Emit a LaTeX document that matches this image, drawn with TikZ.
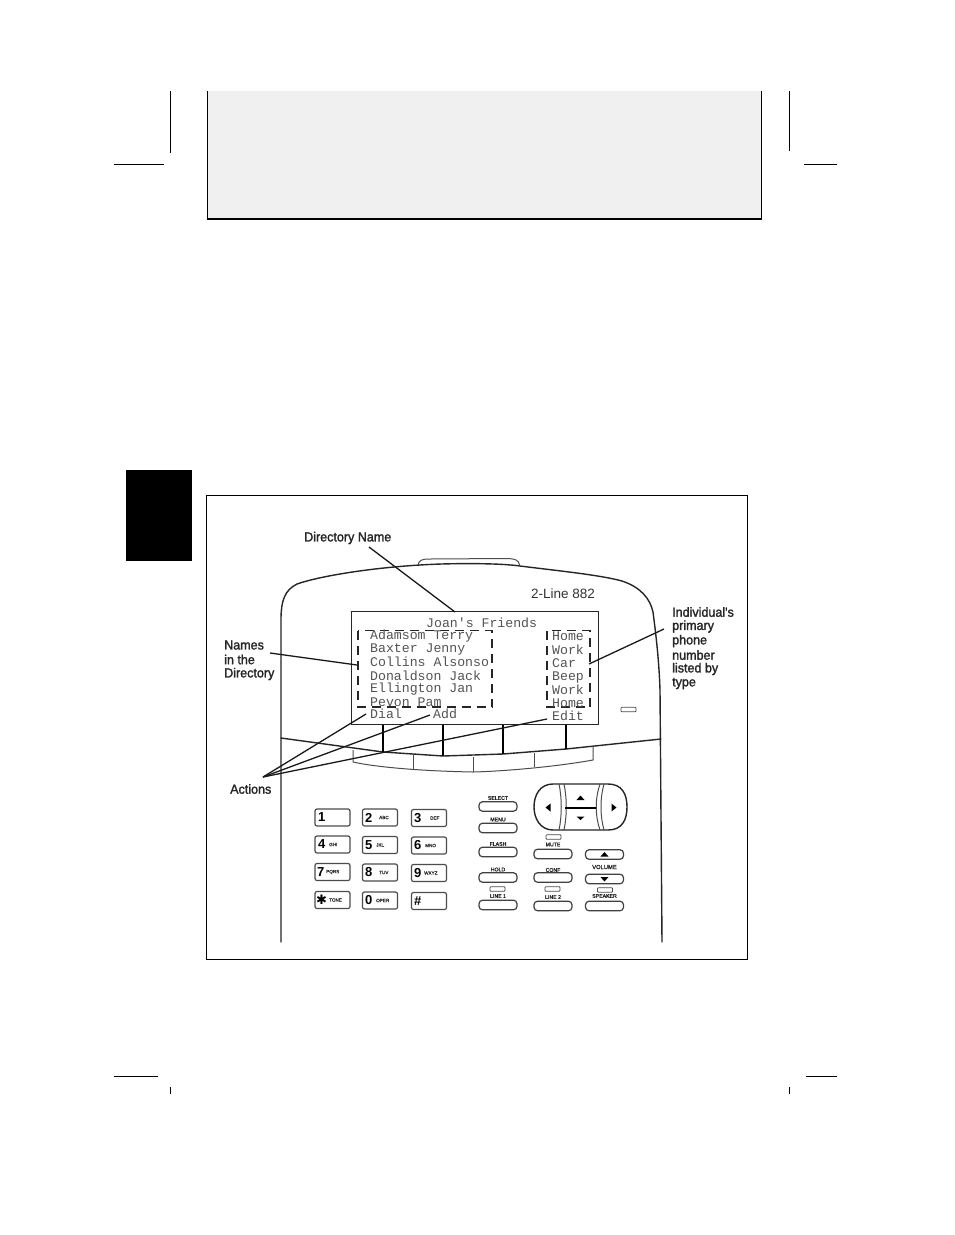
\documentclass[tikz,border=0pt]{standalone}
\usepackage{fontspec}
\setmainfont{Liberation Sans}
\newfontfamily\lblfont[FakeStretch=0.95,FakeBold=1.6]{Liberation Sans}
\newfontfamily\scrfont{Liberation Mono}
\newfontfamily\keyfont[FakeBold=1.5]{Liberation Sans}
\newfontfamily\symfont{DejaVu Sans}
\definecolor{scrgray}{gray}{0.33}
\tikzset{
  crop/.style={line width=0.8pt,black},
  lbl/.style={inner sep=0,anchor=west,font=\lblfont\fontsize{13.2}{14}\selectfont,text=black!85},
  scr/.style={inner sep=0,anchor=west,text=scrgray,font=\scrfont\fontsize{13.2}{14}\selectfont},
  phone/.style={line width=1.4pt,black!85,line cap=round},
  thinln/.style={line width=1pt,black!70},
  softbar/.style={line width=2.6pt,black},
  leader/.style={line width=1.3pt,black!90},
  dashbox/.style={line width=1.3pt,black!85,dash pattern=on 9pt off 6pt},
  keybox/.style={draw=black!70,line width=1.2pt,rounded corners=2pt,inner sep=0,minimum width=35pt,minimum height=17pt},
  fnbtn/.style={draw=black!75,line width=1.2pt,rounded corners=3.5pt,inner sep=0,minimum width=38pt,minimum height=9.5pt},
  led/.style={draw=black!70,line width=0.8pt,rounded corners=0.8pt,inner sep=0,minimum width=15pt,minimum height=4.5pt},
  captxt/.style={inner sep=0,font=\keyfont\fontsize{5.2}{6}\selectfont,text=black!85},
  dig/.style={inner sep=0,anchor=west,font=\bfseries\fontsize{13}{14}\selectfont},
  keytxt/.style={inner sep=0,anchor=west,font=\keyfont\fontsize{4.6}{5}\selectfont,text=black!80},
  tri/.style={fill=black,draw=none}
}
\begin{document}
\begin{tikzpicture}[x=1pt,y=-1pt]
\useasboundingbox (0,0) rectangle (954,1235);
\fill[white] (0,0) rectangle (954,1235);
% page furniture
\fill[black!6] (207,91) rectangle (761.5,219);
\draw[line width=0.8pt] (207,91) -- (207,219);
\draw[line width=0.8pt] (761.5,91) -- (761.5,219);
\draw[line width=1.6pt] (206.5,219) -- (762,219);
\draw[crop] (170.5,91) -- (170.5,153);
\draw[crop] (114,164.5) -- (164,164.5);
\draw[crop] (789.5,91) -- (789.5,151);
\draw[crop] (804,164.5) -- (837,164.5);
\draw[crop] (114,1076.5) -- (158,1076.5);
\draw[crop] (806,1076.5) -- (837,1076.5);
\draw[crop] (170.5,1087) -- (170.5,1094);
\draw[crop] (789.5,1087) -- (789.5,1094);
\fill[black] (126,470) rectangle (192,561);
\draw[line width=1pt] (206.5,495) rectangle (747.5,959.7);
% phone body
\draw[phone] (281,942) -- (281,620)
  .. controls (281,600) and (285,590) .. (297,584)
  .. controls (320,576) and (370,568) .. (420,565)
  .. controls (450,563) and (500,563) .. (520,566)
  .. controls (560,571) and (600,575) .. (622,581)
  .. controls (640,587) and (650,598) .. (653,612)
  .. controls (656,635) and (659,660) .. (660,690)
  -- (662,942);
\draw[thinln] (418,565) .. controls (419,560) and (422,559) .. (430,559)
  -- (505,558.5) .. controls (515,558.5) and (519,560) .. (519.5,565);
% soft key area
\draw[phone] (281,738) -- (383,752) -- (443,756) -- (503,754) -- (566,749) -- (661,739);
\draw[thinln] (353,750) -- (353,762) .. controls (375,767) and (420,771) .. (473,772)
  .. controls (510,771) and (560,766) .. (593,760) -- (593,746);
\draw[thinln] (413,755) -- (413,769);
\draw[thinln] (473,757) -- (473,772);
\draw[thinln] (534,753) -- (534,767);
\draw[softbar] (383,724) -- (383,752);
\draw[softbar] (443,724) -- (443,756);
\draw[softbar] (503,724) -- (503,754);
\draw[softbar] (566,724) -- (566,749);
% screen
\fill[white] (351,611) rectangle (598,724);
\draw[line width=0.9pt,black!85] (351,611) rectangle (598,724);
\draw[dashbox] (358,630.5) rectangle (492,707);
\draw[dashbox] (547,630.5) rectangle (590,707);
\node[scr] (title) at (426,623) {Joan's Friends};
\node[scr] (n1) at (370,636) {Adamsom Terry};
\node[scr] (n2) at (370,649.5) {Baxter Jenny};
\node[scr] (n3) at (370,662) {Collins Alsonso};
\node[scr] (n4) at (370,675.5) {Donaldson Jack};
\node[scr] (n5) at (370,689) {Ellington Jan};
\node[scr] (n6) at (370,702) {Pevon Pam};
\node[scr] (a1) at (370,714) {Dial};
\node[scr] (a2) at (433,714) {Add};
\node[scr] (a3) at (552,715.5) {Edit};
\node[scr] (t1) at (552,636.5) {Home};
\node[scr] (t2) at (552,650) {Work};
\node[scr] (t3) at (552,663) {Car};
\node[scr] (t4) at (552,677.5) {Beep};
\node[scr] (t5) at (552,689.5) {Work};
\node[scr] (t6) at (552,703) {Home};
\node[inner sep=0,anchor=west,font=\fontsize{13.5}{14}\selectfont,text=black!80] (model) at (531,594) {2-Line 882};
\node[led] (lcdled) at (628.5,709.5) {};
% labels
\node[lbl] (dirname) at (304,538) {Directory Name};
\node[lbl] (names1) at (224,645) {Names};
\node[lbl] (names2) at (224,659.5) {in the};
\node[lbl] (names3) at (224,674) {Directory};
\node[lbl] (actions) at (230,789) {Actions};
\node[lbl] (ind1) at (672,612) {Individual's};
\node[lbl] (ind2) at (672,626.5) {primary};
\node[lbl] (ind3) at (672,641) {phone};
\node[lbl] (ind4) at (672,655) {number};
\node[lbl] (ind5) at (672,669) {listed by};
\node[lbl] (ind6) at (672,683.5) {type};
% leaders
\coordinate (dirS) at (369,547);
\coordinate (dirE) at (455,612);
\coordinate (namS) at (270,653);
\coordinate (namE) at (357,665);
\coordinate (indS) at (664,629);
\coordinate (indE) at (589,664);
\coordinate (actS) at (263,777);
\coordinate (actA) at (366,714);
\coordinate (actB) at (430,715);
\coordinate (actC) at (547,719);
\draw[leader] (dirS) -- (dirE);
\draw[leader] (namS) -- (namE);
\draw[leader] (indS) -- (indE);
\draw[leader] (actS) -- (actA);
\draw[leader] (actS) -- (actB);
\draw[leader] (actS) -- (actC);
% keypad
\node[keybox] (k1) at (332.5,817.5) {}; \node[dig] at (318,817.5) {1};
\node[keybox] (k2) at (380,817.5) {}; \node[dig] at (365,817.5) {2}; \node[keytxt] at (379,817.5) {ABC};
\node[keybox] (k3) at (429,818) {}; \node[dig] at (414,818) {3}; \node[keytxt] at (430,818) {DEF};
\node[keybox] (k4) at (332.5,844.5) {}; \node[dig] at (318,844.5) {4}; \node[keytxt] at (329,844.5) {GHI};
\node[keybox] (k5) at (380,845) {}; \node[dig] at (365,845) {5}; \node[keytxt] at (376,845) {JKL};
\node[keybox] (k6) at (429,845.5) {}; \node[dig] at (414,845.5) {6}; \node[keytxt] at (425,845.5) {MNO};
\node[keybox] (k7) at (332.5,872) {}; \node[dig] at (317,872) {7}; \node[keytxt] at (326,872) {PQRS};
\node[keybox] (k8) at (380,872.5) {}; \node[dig] at (365,872.5) {8}; \node[keytxt] at (379,872.5) {TUV};
\node[keybox] (k9) at (429,873) {}; \node[dig] at (414,873) {9}; \node[keytxt] at (424,873) {WXYZ};
\node[keybox] (kstar) at (332.5,900) {}; \node[inner sep=0,anchor=west,font=\symfont\fontsize{13}{14}\selectfont] at (316,900) {✱}; \node[keytxt] at (329,900) {TONE};
\node[keybox] (k0) at (380,900.5) {}; \node[dig] at (365,900.5) {0}; \node[keytxt] at (376,900.5) {OPER};
\node[keybox] (khash) at (429,901) {}; \node[dig] at (414,901) {\#};
% function buttons
\node[fnbtn] (select) at (498,806.5) {}; \node[captxt] at (498,798) {SELECT};
\node[fnbtn] (menu) at (498,828) {}; \node[captxt] at (498,819.5) {MENU};
\node[fnbtn] (flash) at (498,852) {}; \node[captxt] at (498,844) {FLASH};
\node[fnbtn] (hold) at (498,877.5) {}; \node[captxt] at (498,869.5) {HOLD};
\node[fnbtn] (line1) at (498,905) {}; \node[captxt] at (498,896) {LINE 1};
\node[led] (l1) at (497.5,889) {};
\node[fnbtn] (mute) at (553,854) {}; \node[captxt] at (553,844.5) {MUTE};
\node[led] (lm) at (553.5,837) {};
\node[fnbtn] (conf) at (553,877.5) {}; \node[captxt] at (553,870) {CONF};
\node[fnbtn] (line2) at (553,906) {}; \node[captxt] at (553,897) {LINE 2};
\node[led] (l2) at (552.5,889) {};
\node[fnbtn] (volup) at (604.5,854.5) {};
\node[fnbtn] (voldn) at (604.5,879) {};
\node[captxt,font=\keyfont\fontsize{5.8}{6}\selectfont] at (604.5,867) {VOLUME};
\node[fnbtn] (spk) at (604.5,906) {}; \node[captxt] at (604.5,896) {SPEAKER};
\node[led] (ls) at (605,890) {};
\fill[tri] (604.5,852) -- (600.5,856.5) -- (608.5,856.5) -- cycle;
\fill[tri] (604.5,881.5) -- (600.5,877) -- (608.5,877) -- cycle;
% navigation pad
\draw[phone] (553,784) -- (608,784) .. controls (622,784) and (627,794) .. (627,807)
  .. controls (627,820) and (622,830) .. (608,830) -- (553,830)
  .. controls (540,830) and (534,818) .. (534,807)
  .. controls (534,795) and (540,784) .. (553,784) -- cycle;
\draw[thinln] (559,784) .. controls (562,798) and (562,816) .. (559,830);
\draw[thinln] (564,784) .. controls (567,798) and (567,816) .. (564,830);
\draw[thinln] (600,784) .. controls (595,798) and (595,816) .. (600,830);
\draw[thinln] (604,784) .. controls (600,798) and (600,816) .. (604,830);
\draw[line width=1.4pt,black] (565,808) -- (596,808);
\fill[tri] (580.5,795.5) -- (576.5,800) -- (584.5,800) -- cycle;
\fill[tri] (580.5,820) -- (576.5,816.5) -- (584.5,816.5) -- cycle;
\fill[tri] (545.5,807.5) -- (550.5,803.5) -- (550.5,811.5) -- cycle;
\fill[tri] (616.5,807.5) -- (611.5,803.5) -- (611.5,811.5) -- cycle;
\end{tikzpicture}
\end{document}
